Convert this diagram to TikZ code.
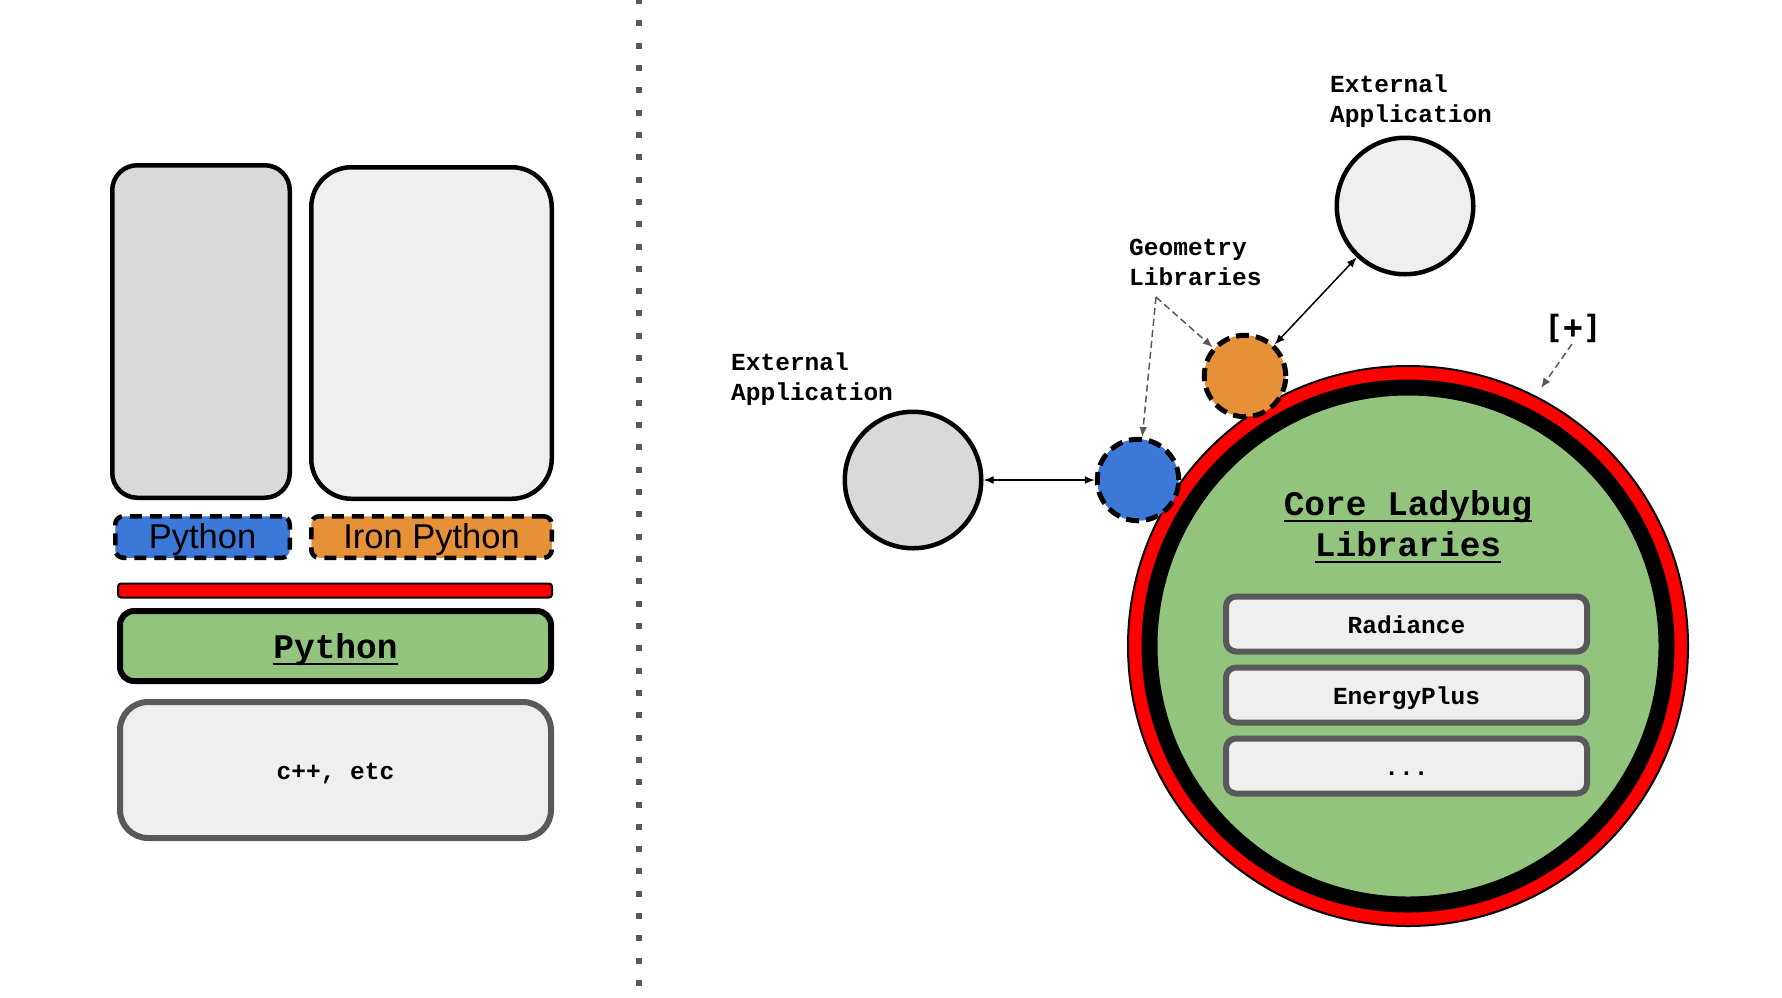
\documentclass[tikz,border=0pt]{standalone}
\usepackage{fontspec}
\setmainfont{Liberation Mono}
\newfontfamily\arialfont{Liberation Sans}
\newfontfamily\plusfont{DejaVu Sans Mono}
\usetikzlibrary{arrows.meta}
\definecolor{gfill}{HTML}{D9D9D9}
\definecolor{lfill}{HTML}{EFEFEF}
\definecolor{bluefill}{HTML}{3C78D8}
\definecolor{orangefill}{HTML}{E69138}
\definecolor{greenfill}{HTML}{93C47D}
\definecolor{graylinec}{HTML}{595959}
\definecolor{redfill}{HTML}{FF0000}
\newsavebox\ulbox
\newcommand\myul[1]{\sbox\ulbox{#1}\rlap{\rule[-7pt]{\wd\ulbox}{2pt}}\usebox\ulbox}
\begin{document}
\begin{tikzpicture}[x=1pt, y=-1pt, line join=round,
  rbox/.style={rectangle, draw=black, inner sep=0pt},
  dashbox/.style={rbox, line width=4.5pt, dash pattern=on 12pt off 8pt, rounded corners=8pt,
    font=\arialfont\fontsize{34.5}{40}\selectfont, text height=23pt, text depth=0pt},
  libbox/.style={rectangle, draw=graylinec, fill=lfill, line width=6pt, rounded corners=10pt,
    minimum width=361pt, minimum height=55pt, inner sep=0pt,
    font=\bfseries\fontsize{24.5}{30}\selectfont, text height=18pt, text depth=0pt},
  extcirc/.style={circle, draw=black, line width=4.5pt, minimum size=136.5pt, inner sep=0pt},
  dcirc/.style={circle, draw=black, line width=5pt, dash pattern=on 13pt off 7pt,
    minimum size=81.5pt, inner sep=0pt},
  lbl/.style={inner sep=0pt, anchor=base west, font=\bfseries\fontsize{24.5}{30}\selectfont},
  titlefont/.style={inner sep=0pt, anchor=base, font=\bfseries\fontsize{34.5}{41}\selectfont},
  blk/.style={black, line width=1.5pt, {Latex[length=10pt,width=8pt]}-{Latex[length=10pt,width=8pt]}},
  gry/.style={graylinec, line width=1.5pt, dash pattern=on 7pt off 4pt, -{Latex[length=10pt,width=8pt]}}
]
\useasboundingbox (0,0) rectangle (1782,997);

% separator
\coordinate (septop) at (639,-2);
\coordinate (sepbot) at (639,987);
\draw[graylinec, line width=6pt, dash pattern=on 6pt off 16.32pt] (septop) -- (sepbot);

% left stack
\node[rbox, fill=gfill, line width=4.5pt, rounded corners=25pt, minimum width=177.5pt, minimum height=332.5pt] (app1) at (201,331.5) {};
\node[rbox, fill=lfill, line width=4.5pt, rounded corners=40pt, minimum width=240.5pt, minimum height=331.5pt] (app2) at (431.5,333) {};
\node[dashbox, fill=bluefill, minimum width=174.5pt, minimum height=41.5pt] (py1) at (202.5,537) {Python};
\node[dashbox, fill=orangefill, minimum width=240.5pt, minimum height=41.5pt] (py2) at (431.5,537) {Iron Python};
\node[rbox, fill=redfill, line width=2pt, rounded corners=3pt, minimum width=434pt, minimum height=14pt] (redbar) at (335,590.5) {};
\node[rbox, fill=greenfill, line width=6pt, rounded corners=14pt, minimum width=431pt, minimum height=70pt,
  font=\bfseries\fontsize{34.5}{40}\selectfont, text height=24pt, text depth=0pt] (core1) at (335.5,646) {\myul{Python}};
\node[rbox, draw=graylinec, fill=lfill, line width=6pt, rounded corners=28pt, minimum width=431pt, minimum height=136pt,
  font=\bfseries\fontsize{24.5}{30}\selectfont, text height=18pt, text depth=0pt] (native) at (335.5,770) {c++, etc};

% right side
\node[extcirc, fill=gfill] (extL) at (913,480) {};
\node[extcirc, fill=lfill] (extT) at (1405,206) {};

\node[circle, draw=black, fill=redfill, line width=2pt, minimum size=560pt, inner sep=0pt] (ring) at (1408,646) {};
\node[circle, draw=black, fill=greenfill, line width=16pt, minimum size=517pt, inner sep=0pt] (core2) at (1408,646) {};

\node[titlefont] (title1) at (1408,515) {\myul{Core Ladybug}};
\node[titlefont] (title2) at (1408,556) {\myul{Libraries}};

\node[libbox] (rad) at (1406.5,624) {Radiance};
\node[libbox] (eplus) at (1406.5,695) {EnergyPlus};
\node[libbox] (more) at (1406.5,766) {...};

\node[dcirc, fill=bluefill] (geoB) at (1138,480) {};
\node[dcirc, fill=orangefill] (geoO) at (1245,376) {};

% labels
\node[lbl] (extLa) at (731,370) {External};
\node[lbl] (extLb) at (731,400) {Application};
\node[lbl] (extTa) at (1330,92) {External};
\node[lbl] (extTb) at (1330,122) {Application};
\node[lbl] (geoLa) at (1129,255) {Geometry};
\node[lbl] (geoLb) at (1129,285) {Libraries};
\node[inner sep=0pt, font=\plusfont\bfseries\fontsize{32}{38}\selectfont] (plus) at (1573,328) {[+]};

% connectors
\draw[blk] (extL) -- (geoB);
\draw[blk] (geoO) -- (extT);
\coordinate (geoP) at (1156,297);
\draw[gry] (geoP) -- (geoO);
\draw[gry] (geoP) -- (geoB);
\coordinate (plusA) at (1572,344);
\coordinate (plusB) at (1541,388);
\draw[gry] (plusA) -- (plusB);
\end{tikzpicture}
\end{document}
